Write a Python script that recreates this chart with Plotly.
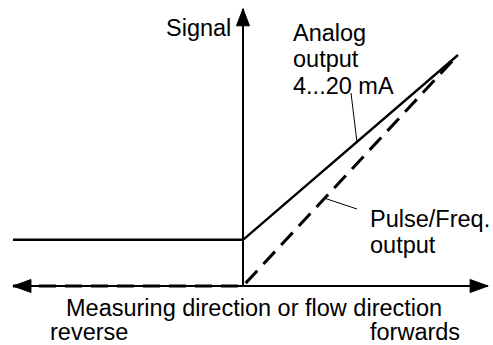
import numpy as np
import plotly.graph_objects as go

# Flow rate in % of full scale (negative = reverse flow)
flow = [-107, 0, 100]
# Output signals in % of full scale (4 mA = 20 % of 20 mA)
analog_signal = [20, 20, 100]
pulse_signal = [0, 0, 100]

# Extent of the drawn axes (arrow tips)
axis_flow = [-107, 114]
axis_signal_top = 120

W, H = 493, 345
X_RANGE = [-113.02, 116.28]
Y_RANGE = [-25.54, 123.81]
KX = (X_RANGE[1] - X_RANGE[0]) / W   # data units per pixel, x
KY = (Y_RANGE[1] - Y_RANGE[0]) / H   # data units per pixel, y

FONT = dict(family="Liberation Sans, Arial, Helvetica, sans-serif", size=23.5, color="black")


def paper(px, py):
    return px / W, 1 - py / H


def head(tip_x, tip_y, dx, dy, length=18, half=6.5):
    """Filled arrowhead polygon, direction (dx, dy) in screen sense."""
    if dx != 0:
        bx = tip_x - dx * length * KX
        xs = [tip_x, bx, bx, tip_x]
        ys = [tip_y, tip_y + half * KY, tip_y - half * KY, tip_y]
    else:
        by = tip_y - dy * length * KY
        xs = [tip_x, tip_x - half * KX, tip_x + half * KX, tip_x]
        ys = [tip_y, by, by, tip_y]
    return go.Scatter(x=xs, y=ys, mode="lines", fill="toself", fillcolor="black",
                      line=dict(color="black", width=1), hoverinfo="skip")


fig = go.Figure()

# Axes
fig.add_trace(go.Scatter(x=axis_flow, y=[0, 0], mode="lines",
                         line=dict(color="black", width=2), hoverinfo="skip"))
fig.add_trace(go.Scatter(x=[0, 0], y=[0, axis_signal_top], mode="lines",
                         line=dict(color="black", width=2), hoverinfo="skip"))
fig.add_trace(head(axis_flow[0], 0, -1, 0))
fig.add_trace(head(axis_flow[1], 0, 1, 0))
fig.add_trace(head(0, axis_signal_top, 0, 1, length=17))

# Output characteristics
fig.add_trace(go.Scatter(x=flow, y=analog_signal, mode="lines", name="Analog output",
                         line=dict(color="black", width=2.4)))
fig.add_trace(go.Scatter(x=flow, y=pulse_signal, mode="lines", name="Pulse/Freq. output",
                         line=dict(color="black", width=3, dash="17px,9px")))

# Leader lines from labels to the curves
f_a = 53
f_p = 38
lead_a = (f_a, float(np.interp(f_a, flow, analog_signal)))
lead_p = (f_p, float(np.interp(f_p, flow, pulse_signal)))
shapes = []
for (lx, ly), (ppx, ppy) in [(lead_a, (351, 93)), (lead_p, (357, 209))]:
    sx = X_RANGE[0] + ppx * KX
    sy = Y_RANGE[1] - ppy * KY
    shapes.append(dict(type="line", xref="x", yref="y", x0=sx, y0=sy, x1=lx, y1=ly,
                       line=dict(color="black", width=1)))

labels = [
    ("Signal", 165, 33, "left"),
    ("Analog", 292, 38, "left"),
    ("output", 292, 64, "left"),
    ("4...20 mA", 292, 91, "left"),
    ("Pulse/Freq.", 369, 224, "left"),
    ("output", 369, 250, "left"),
    ("Measuring direction or flow direction", 65, 313, "left"),
    ("reverse", 49, 337, "left"),
    ("forwards", 461, 337, "right"),
]
annotations = []
for text, lx, base, anchor in labels:
    x, y = paper(lx, base - 5)
    annotations.append(dict(text=text, x=x, y=y, xref="paper", yref="paper",
                            xanchor=anchor, yanchor="middle", showarrow=False,
                            font=FONT, borderpad=0))

fig.update_layout(
    width=W, height=H, autosize=False,
    margin=dict(l=0, r=0, t=0, b=0),
    paper_bgcolor="white", plot_bgcolor="white",
    showlegend=False,
    xaxis=dict(range=X_RANGE, visible=False, fixedrange=True),
    yaxis=dict(range=Y_RANGE, visible=False, fixedrange=True),
    shapes=shapes, annotations=annotations,
)

fig.write_html("out.html", config={"displayModeBar": False})
